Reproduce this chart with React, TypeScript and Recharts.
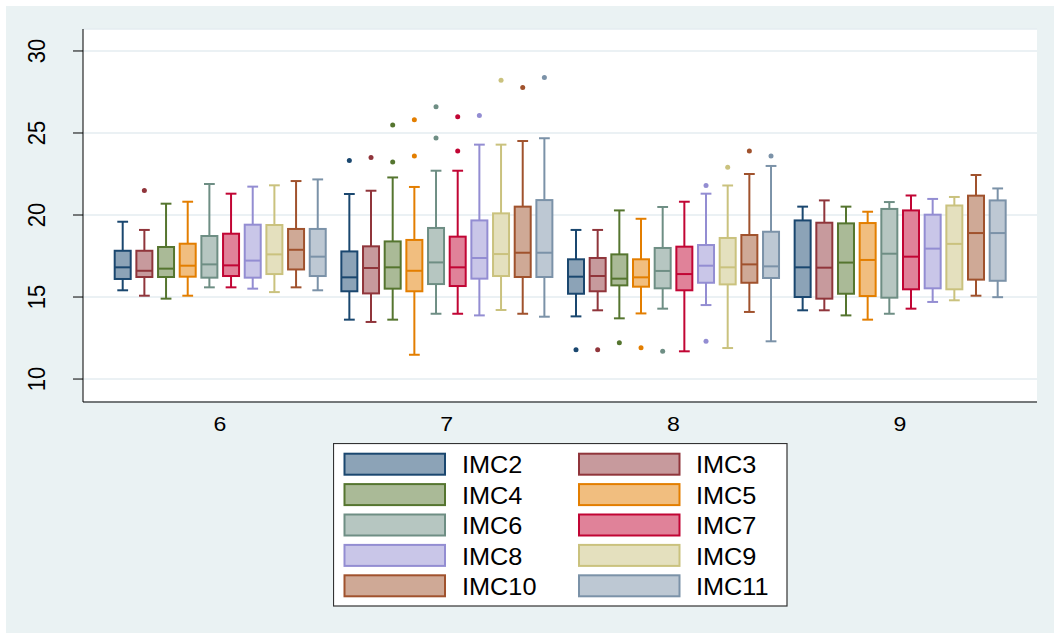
import { BarChart, Bar, XAxis, YAxis, CartesianGrid, Legend } from 'recharts';

const categories = ['6', '7', '8', '9'];
const seriesNames = ['IMC2', 'IMC3', 'IMC4', 'IMC5', 'IMC6', 'IMC7', 'IMC8', 'IMC9', 'IMC10', 'IMC11'];
const lineColors = ['#1a476f', '#90353b', '#55752f', '#e37e00', '#6e8e84', '#c10534', '#938dd2', '#cac27e', '#a0522d', '#7b92a8'];
const fillColors = ['#8ca3b7', '#c79a9d', '#aaba97', '#f1be7f', '#b6c6c1', '#e08299', '#c9c6e8', '#e4e0be', '#cfa996', '#bdc8d3'];
const yTicks = [10, 15, 20, 25, 30];

// rows: series, columns: categories 6..9
const lowerWhisker = [
  [15.41, 13.62, 13.82, 14.19],
  [15.08, 13.48, 14.19, 14.19],
  [14.9, 13.62, 13.7, 13.88],
  [15.08, 11.48, 14.0, 13.62],
  [15.59, 13.98, 14.29, 13.98],
  [15.59, 13.98, 11.69, 14.29],
  [15.51, 13.88, 14.51, 14.7],
  [15.3, 14.21, 11.89, 14.8],
  [15.59, 13.98, 14.09, 15.08],
  [15.41, 13.8, 12.3, 14.99],
];
const lowerQuartile = [
  [16.1, 15.35, 15.2, 15.0],
  [16.22, 15.22, 15.35, 14.9],
  [16.22, 15.51, 15.71, 15.2],
  [16.24, 15.35, 15.63, 15.06],
  [16.18, 15.79, 15.53, 14.96],
  [16.28, 15.67, 15.41, 15.47],
  [16.18, 16.12, 15.87, 15.53],
  [16.4, 16.28, 15.77, 15.47],
  [16.68, 16.22, 15.87, 16.06],
  [16.28, 16.22, 16.16, 15.99],
];
const medians = [
  [16.81, 16.2, 16.24, 16.81],
  [16.6, 16.77, 16.28, 16.79],
  [16.73, 16.81, 16.12, 17.1],
  [16.91, 16.6, 16.2, 17.26],
  [16.99, 17.11, 16.59, 17.64],
  [16.93, 16.81, 16.4, 17.46],
  [17.22, 17.38, 16.91, 17.95],
  [17.6, 17.62, 16.81, 18.24],
  [17.88, 17.7, 16.99, 18.9],
  [17.46, 17.7, 16.87, 18.9],
];
const upperQuartile = [
  [17.82, 17.78, 17.3, 19.67],
  [17.82, 18.09, 17.38, 19.53],
  [18.05, 18.39, 17.6, 19.49],
  [18.25, 18.48, 17.3, 19.51],
  [18.72, 19.21, 17.99, 20.37],
  [18.86, 18.68, 18.07, 20.28],
  [19.41, 19.67, 18.17, 20.02],
  [19.39, 20.1, 18.6, 20.58],
  [19.15, 20.51, 18.78, 21.18],
  [19.15, 20.91, 18.98, 20.89],
];
const upperWhisker = [
  [19.59, 21.28, 19.09, 20.51],
  [19.09, 21.48, 19.09, 20.89],
  [20.69, 22.29, 20.28, 20.51],
  [20.81, 21.71, 19.77, 20.2],
  [21.89, 22.7, 20.49, 20.79],
  [21.3, 22.7, 20.81, 21.19],
  [21.73, 24.29, 21.3, 20.98],
  [21.81, 24.29, 21.8, 21.1],
  [22.07, 24.51, 22.5, 22.44],
  [22.17, 24.68, 22.99, 21.62],
];
const outliers: number[][][] = [
  [[], [23.33], [11.79], []],
  [[21.5], [23.51], [11.79], []],
  [[], [23.23, 25.49], [12.21], []],
  [[], [23.6, 25.81], [11.91], []],
  [[], [24.7, 26.6], [11.69], []],
  [[], [23.9, 25.99], [], []],
  [[], [26.06], [21.8, 12.3], []],
  [[], [28.21], [22.91], []],
  [[], [27.78], [23.9], []],
  [[], [28.39], [23.6], []],
];

const rows = categories.map((group, c) => {
  const row: Record<string, any> = { group };
  seriesNames.forEach((name, s) => {
    row[name] = [lowerQuartile[s][c], upperQuartile[s][c]];
  });
  return row;
});

const FONT = '"Liberation Sans", Arial, sans-serif';

function BoxShape(props: any) {
  const { x, y, width, height, s } = props;
  let c = props.index;
  if (typeof c !== 'number') c = categories.indexOf(props.payload?.group);
  const lo = lowerQuartile[s][c];
  const hi = upperQuartile[s][c];
  const top = Math.min(y, y + height);
  const k = Math.abs(height) / (hi - lo);
  const py = (v: number) => top + (hi - v) * k;
  const cx = x + width / 2;
  const cap = width * 0.3;
  const stroke = lineColors[s];
  return (
    <g>
      <line x1={cx} x2={cx} y1={py(upperWhisker[s][c])} y2={py(hi)} stroke={stroke} strokeWidth={2} />
      <line x1={cx} x2={cx} y1={py(lo)} y2={py(lowerWhisker[s][c])} stroke={stroke} strokeWidth={2} />
      <line x1={cx - cap} x2={cx + cap} y1={py(upperWhisker[s][c])} y2={py(upperWhisker[s][c])} stroke={stroke} strokeWidth={2} />
      <line x1={cx - cap} x2={cx + cap} y1={py(lowerWhisker[s][c])} y2={py(lowerWhisker[s][c])} stroke={stroke} strokeWidth={2} />
      <rect x={x + 1} y={py(hi)} width={width - 2} height={py(lo) - py(hi)} fill={fillColors[s]} stroke={stroke} strokeWidth={2} />
      <line x1={x + 1} x2={x + width - 1} y1={py(medians[s][c])} y2={py(medians[s][c])} stroke={stroke} strokeWidth={2} />
      {outliers[s][c].map((v, i) => (
        <circle key={i} cx={cx} cy={py(v)} r={2.5} fill={stroke} />
      ))}
    </g>
  );
}

function YTick({ x, y, payload }: any) {
  return (
    <text
      transform={`translate(${x},${y}) scale(1.1,1) rotate(-90)`}
      textAnchor="middle"
      fontSize={22}
      fontFamily={FONT}
      fill="#000"
    >
      {payload.value}
    </text>
  );
}

function XTick({ x, y, payload }: any) {
  return (
    <text
      transform={`translate(${x},${y + 29}) scale(1.1,1)`}
      textAnchor="middle"
      fontSize={21}
      fontFamily={FONT}
      fill="#000"
    >
      {payload.value}
    </text>
  );
}

function BoxLegend() {
  return (
    <svg width={456} height={165} style={{ display: 'block' }}>
      <rect x={0.5} y={0.5} width={453.5} height={162.5} fill="#fff" stroke="#333" strokeWidth={1.2} />
      {seriesNames.map((name, i) => {
        const col = i % 2;
        const row = Math.floor(i / 2);
        const sx = col === 0 ? 11.5 : 246;
        const sy = 10.7 + row * 30.4;
        const tx = col === 0 ? 129 : 363;
        return (
          <g key={name}>
            <rect x={sx} y={sy} width={100.5} height={21} fill={fillColors[i]} stroke={lineColors[i]} strokeWidth={2} />
            <text
              transform={`translate(${tx},${sy + 19.7}) scale(1.1,1)`}
              fontSize={23}
              fontFamily={FONT}
              fill="#000"
            >
              {name}
            </text>
          </g>
        );
      })}
    </svg>
  );
}

export default function App() {
  return (
    <div style={{ position: 'absolute', left: 0, top: 0, width: 1054, height: 633, background: '#fff' }}>
      <div style={{ position: 'absolute', left: 6, top: 6, width: 1048, height: 627, background: '#eaf2f3' }} />
      <div style={{ position: 'absolute', left: 0, top: 0 }}>
        <BarChart
          width={1054}
          height={633}
          data={rows}
          margin={{ top: 29, right: 17, bottom: 201, left: 0 }}
          barSize={18}
          barGap={3.67}
        >
          <CartesianGrid vertical={false} stroke="#e4edf0" strokeWidth={1.5} fill="#fff" fillOpacity={1} />
          <XAxis
            dataKey="group"
            height={30}
            padding={{ left: 23.7, right: 23.7 }}
            axisLine={{ stroke: '#000', strokeWidth: 1 }}
            tickLine={false}
            tickSize={0}
            tickMargin={0}
            tick={<XTick />}
            interval={0}
          />
          <YAxis
            type="number"
            width={83}
            domain={[8.6, 31.34]}
            allowDataOverflow
            ticks={yTicks}
            axisLine={{ stroke: '#000', strokeWidth: 1 }}
            tickLine={{ stroke: '#000', strokeWidth: 1 }}
            tickSize={10}
            tickMargin={28}
            tick={<YTick />}
          />
          <Legend
            layout="vertical"
            align="center"
            verticalAlign="middle"
            content={() => <BoxLegend />}
            wrapperStyle={{ position: 'absolute', left: 333, top: 443, width: 456, height: 165 }}
          />
          {seriesNames.map((name, s) => (
            <Bar
              key={name}
              name={name}
              dataKey={name}
              isAnimationActive={false}
              shape={(p: any) => <BoxShape {...p} s={s} />}
            />
          ))}
        </BarChart>
      </div>
    </div>
  );
}
